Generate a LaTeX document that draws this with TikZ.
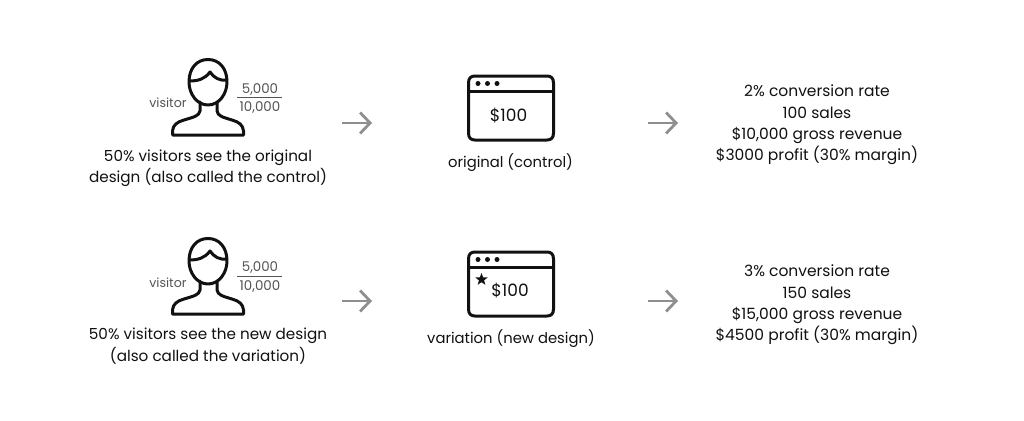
\documentclass[tikz,border=0pt]{standalone}
\usepackage{fontspec}
\setmainfont{Poppins}
\usetikzlibrary{arrows.meta,shapes.geometric}
\definecolor{ink}{HTML}{111111}
\definecolor{soft}{HTML}{555555}
\definecolor{arrowgray}{HTML}{8F8F8F}
\tikzset{
  label text/.style={text=ink,font=\fontsize{15.2}{21.3}\selectfont,align=center,inner sep=0pt},
  mid text/.style={text=ink,font=\fontsize{14.8}{21.3}\selectfont,align=center,inner sep=0pt},
  right text/.style={text=ink,font=\fontsize{15.5}{21.3}\selectfont,align=center,inner sep=0pt},
  price text/.style={text=ink,font=\fontsize{17}{21}\selectfont,inner sep=0pt},
  small text/.style={text=soft,font=\fontsize{13.4}{15}\selectfont,inner sep=0pt},
  visitor text/.style={text=soft,font=\fontsize{12.6}{15}\selectfont,inner sep=0pt},
  icon line/.style={draw=ink,line width=3pt,line join=round,line cap=round},
  flow arrow/.style={draw=arrowgray,line width=2.8pt,-{Straight Barb[length=10pt,width=21pt,line width=2.8pt]}},
  person/.pic={
    \draw[icon line] (189,82) .. controls (189,68) and (197,59.5) .. (208,59.5)
      .. controls (219,59.5) and (227,68) .. (227,82)
      .. controls (227,94) and (219,105) .. (208,105)
      .. controls (197,105) and (189,94) .. (189,82) -- cycle;
    \draw[icon line] (189.5,81) .. controls (198,81) and (205,79) .. (210,72)
      .. controls (214,78) and (220,81) .. (226.5,80);
    \draw[icon line] (200,102) -- (200,111) .. controls (199,116) and (194,117) .. (184,120)
      .. controls (177,122) and (173,125) .. (172.5,131)
      -- (172.5,135) -- (243.5,135) -- (243.5,131)
      .. controls (243,125) and (239,122) .. (232,120)
      .. controls (222,117) and (218,116) .. (217,111) -- (217,102);
  },
  window/.pic={
    \draw[icon line] (468.5,83) .. controls (468.5,78) and (471,76) .. (475,76) -- (547,76)
      .. controls (551,76) and (553.5,78) .. (553.5,83) -- (553.5,133)
      .. controls (553.5,138) and (551,140) .. (547,140) -- (475,140)
      .. controls (471,140) and (468.5,138) .. (468.5,133) -- cycle;
    \draw[icon line] (468.5,91) -- (553.5,91);
    \fill[ink] (478,83.5) circle (2.5pt) (487.5,83.5) circle (2.5pt) (497,83.5) circle (2.5pt);
  },
}
\begin{document}
\begin{tikzpicture}[x=1pt,y=-1pt]
\useasboundingbox (0,0) rectangle (1024,420);
\fill[white] (0,0) rectangle (1024,420);
% row 1
\pic at (0,0) {person};
\node[visitor text] (v1) at (168,102.5) {visitor};
\node[small text] (n1) at (260,89.5) {5,000};
\node[small text] (d1) at (260,107.5) {10,000};
\draw[draw=soft,line width=0.9pt] (237,97.5) coordinate (r1a) -- (282,97.5) coordinate (r1b);
\node[label text] (t1) at (208,168) {50\% visitors see the original\\design (also called the control)};
\pic at (0,0) {window};
\node[price text] (p1) at (508.5,116) {\$100};
\node[mid text] (m1) at (510.5,163) {original (control)};
\node[right text] (o1) at (817,125) {2\% conversion rate\\100 sales\\\$10,000 gross revenue\\\$3000 profit (30\% margin)};
\coordinate (a1) at (342,123); \coordinate (a2) at (372,123);
\coordinate (a3) at (648,123); \coordinate (a4) at (678,123);
\draw[flow arrow] (a1) -- (a2);
\draw[flow arrow] (a3) -- (a4);
% row 2
\pic at (0,179) {person};
\node[visitor text] (v2) at (168,282.5) {visitor};
\node[small text] (n2) at (260,267.5) {5,000};
\node[small text] (d2) at (260,286.5) {10,000};
\draw[draw=soft,line width=0.9pt] (237,276) coordinate (r2a) -- (282,276) coordinate (r2b);
\node[label text] (t2) at (208,346) {50\% visitors see the new design\\(also called the variation)};
\pic at (0,176) {window};
\node[star,star points=5,star point ratio=2.4,fill=ink,minimum size=13pt,inner sep=0pt] (s2) at (481.5,279.5) {};
\node[price text] (p2) at (510,291) {\$100};
\node[mid text] (m2) at (511,339) {variation (new design)};
\node[right text] (o2) at (817,305) {3\% conversion rate\\150 sales\\\$15,000 gross revenue\\\$4500 profit (30\% margin)};
\coordinate (b1) at (342,301); \coordinate (b2) at (372,301);
\coordinate (b3) at (648,301); \coordinate (b4) at (678,301);
\draw[flow arrow] (b1) -- (b2);
\draw[flow arrow] (b3) -- (b4);
\end{tikzpicture}
\end{document}
